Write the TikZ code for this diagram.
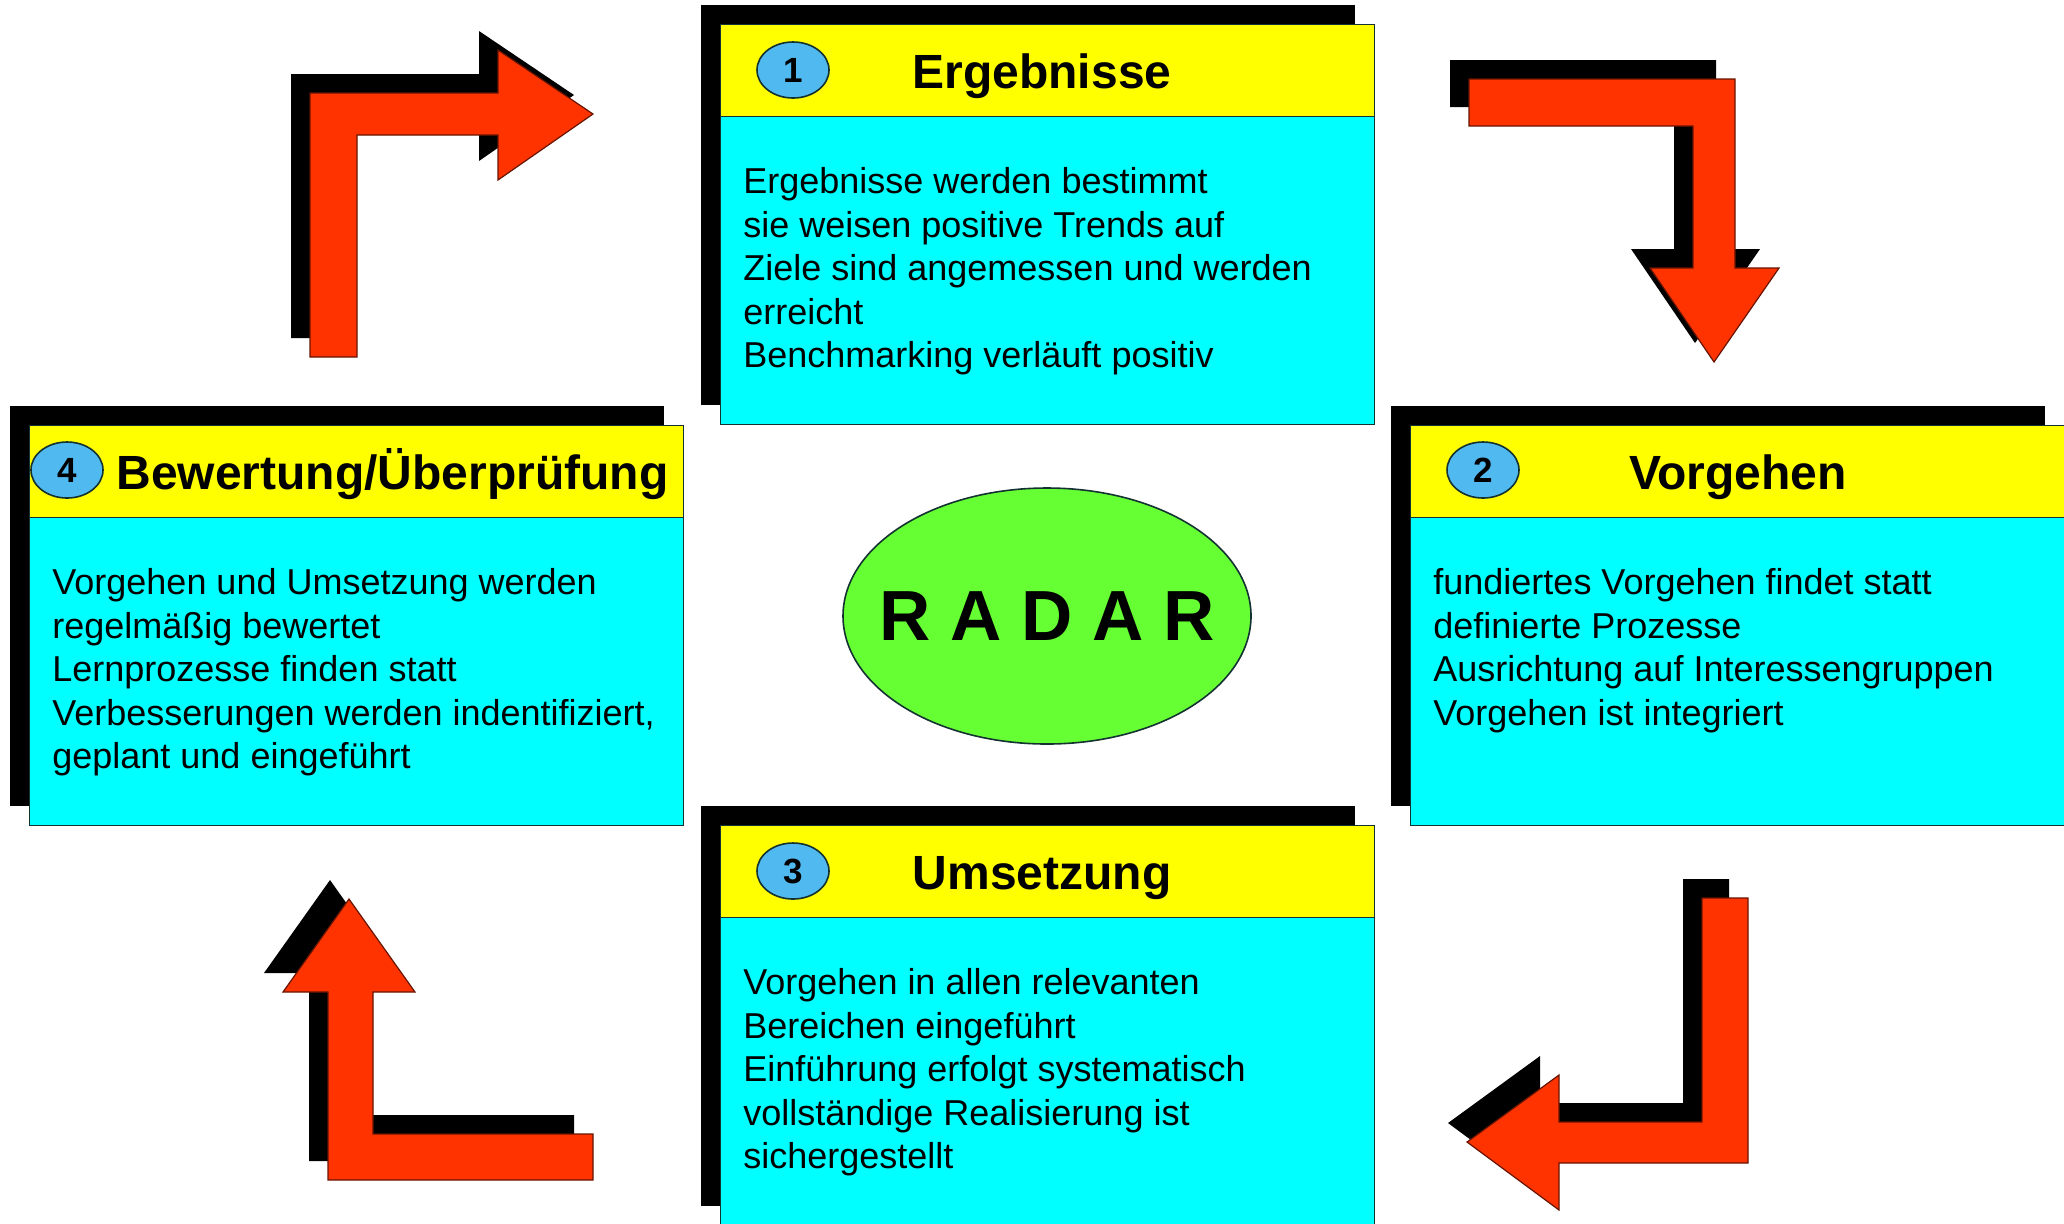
\documentclass[tikz,border=0pt]{standalone}
\usepackage{fontspec}
\setmainfont{Liberation Sans}
\usetikzlibrary{shapes.geometric}

\definecolor{arrowred}{RGB}{255,51,0}
\definecolor{headyellow}{RGB}{255,255,0}
\definecolor{bodycyan}{RGB}{0,255,255}
\definecolor{numblue}{RGB}{80,185,240}
\definecolor{radargreen}{RGB}{102,255,51}
\definecolor{edgecol}{RGB}{20,50,50}

\tikzset{
  shadowbox/.style={fill=black, anchor=north west, inner sep=0pt,
    minimum width=327pt, minimum height=200pt},
  headbox/.style={draw=edgecol, line width=0.6pt, fill=headyellow, anchor=north west,
    inner sep=0pt, minimum width=327pt, minimum height=46pt},
  bodybox/.style={draw=edgecol, line width=0.6pt, fill=bodycyan, anchor=north west,
    inner sep=0pt, minimum width=327pt, minimum height=154pt},
  numdot/.style={ellipse, draw=edgecol, line width=0.8pt, fill=numblue, inner sep=0pt,
    minimum width=36pt, minimum height=28pt, font=\fontsize{17.5}{18}\selectfont\bfseries},
  headtext/.style={anchor=base, inner sep=0pt, font=\fontsize{24}{26}\selectfont\bfseries},
  bodytext/.style={anchor=north west, inner sep=0pt, align=left,
    font=\fontsize{18}{21.8}\selectfont},
  radar/.style={ellipse, draw=edgecol, line width=0.8pt, fill=radargreen, inner sep=0pt,
    minimum width=204pt, minimum height=128pt},
  radartext/.style={inner sep=0pt, font=\fontsize{35.5}{36}\selectfont\bfseries},
  arrowshadow/.style={fill=black, shift={(-19,-19)}},
  arrowbody/.style={fill=arrowred, draw=black!60!arrowred, line width=0.6pt}
}

\newcommand{\bentarrow}[1]{%
  \fill[arrowshadow] #1;
  \filldraw[arrowbody] #1;}

\begin{document}
\begin{tikzpicture}[x=0.5pt, y=-0.5pt]
  \useasboundingbox (0,0) rectangle (2064,1223);
  \clip (0,0) rectangle (2064,1223);

  % arrows between the boxes
  \bentarrow{(310,357) -- (310,93) -- (498,93) -- (498,50) -- (593,114) -- (498,180) -- (498,135) -- (357,135) -- (357,357) -- cycle}
  \bentarrow{(1469,79) -- (1735,79) -- (1735,268) -- (1779,268) -- (1714,362) -- (1650,268) -- (1693,268) -- (1693,126) -- (1469,126) -- cycle}
  \bentarrow{(1748,898) -- (1748,1163) -- (1559,1163) -- (1559,1210) -- (1467,1142) -- (1559,1075) -- (1559,1122) -- (1702,1122) -- (1702,898) -- cycle}
  \bentarrow{(593,1180) -- (328,1180) -- (328,992) -- (283,992) -- (349,899) -- (415,992) -- (373,992) -- (373,1134) -- (593,1134) -- cycle}

  % 1 Ergebnisse
  \node[shadowbox] (s1) at (701,5) {};
  \node[headbox] (h1) at (720,24) {};
  \node[bodybox] (b1) at (720,116) {};
  \node[numdot] (n1) at (793,70) {1};
  \node[headtext] (t1) at (1042,88) {Ergebnisse};
  \node[bodytext] (x1) at (743,167) {Ergebnisse werden bestimmt\\sie weisen positive Trends auf\\Ziele sind angemessen und werden\\erreicht\\Benchmarking verläuft positiv};

  % 2 Vorgehen
  \node[shadowbox] (s2) at (1391,406) {};
  \node[headbox] (h2) at (1410,425) {};
  \node[bodybox] (b2) at (1410,517) {};
  \node[numdot] (n2) at (1483,470) {2};
  \node[headtext] (t2) at (1738,489) {Vorgehen};
  \node[bodytext] (x2) at (1433,568) {fundiertes Vorgehen findet statt\\definierte Prozesse\\Ausrichtung auf Interessengruppen\\Vorgehen ist integriert};

  % 3 Umsetzung
  \node[shadowbox] (s3) at (701,806) {};
  \node[headbox] (h3) at (720,825) {};
  \node[bodybox] (b3) at (720,917) {};
  \node[numdot] (n3) at (793,871) {3};
  \node[headtext] (t3) at (1042,889) {Umsetzung};
  \node[bodytext] (x3) at (743,968) {Vorgehen in allen relevanten\\Bereichen eingeführt\\Einführung erfolgt systematisch\\vollständige Realisierung ist\\sichergestellt};

  % 4 Bewertung/Ueberpruefung
  \node[shadowbox] (s4) at (10,406) {};
  \node[headbox] (h4) at (29,425) {};
  \node[bodybox] (b4) at (29,517) {};
  \node[numdot] (n4) at (67,470) {4};
  \node[headtext, anchor=base west] (t4) at (116,489) {Bewertung/Überprüfung};
  \node[bodytext] (x4) at (52,568) {Vorgehen und Umsetzung werden\\regelmäßig bewertet\\Lernprozesse finden statt\\Verbesserungen werden indentifiziert,\\geplant und eingeführt};

  % centre
  \node[radar] (radar) at (1047,616) {};
  \node[radartext] (radarlabel) at (radar.center) {R A D A R};
\end{tikzpicture}
\end{document}
